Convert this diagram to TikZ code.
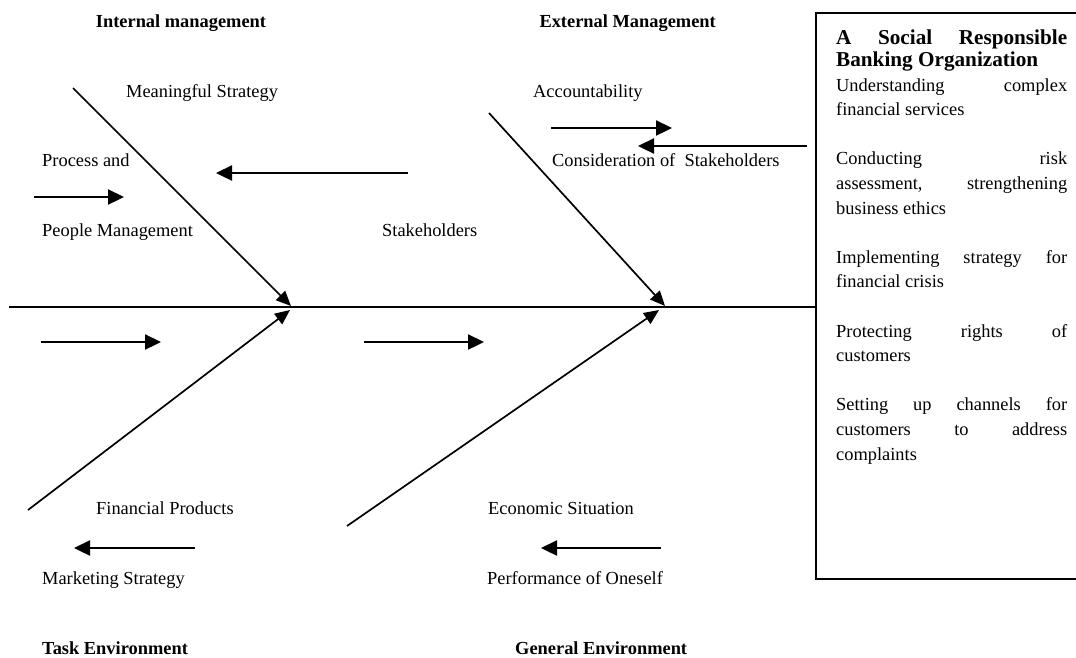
\documentclass[tikz,border=0pt]{standalone}
\usepackage{fontspec}
\setmainfont{Liberation Serif}
\usetikzlibrary{arrows.meta}
\tikzset{
  lbl/.style={anchor=base west, inner sep=0pt, font=\fontsize{18.4}{22}\selectfont},
  head/.style={lbl, font=\fontsize{18.4}{22}\selectfont\bfseries},
  spine/.style={line width=1.9pt},
  bone/.style={line width=1.7pt, -{Triangle[length=15pt,width=13pt]}},
  flow/.style={line width=2.3pt, -{Triangle[length=16pt,width=15pt]}},
  frame/.style={draw, line width=1.8pt, inner sep=0pt, anchor=north west}
}
\begin{document}
\begin{tikzpicture}[x=1pt,y=-1pt]
\useasboundingbox (0,0) rectangle (1076,657);
\clip (0,0) rectangle (1076,657);

% result box on the right
\node[frame, minimum width=280pt, minimum height=566pt] (org) at (815,12) {};
\node[anchor=base west, inner sep=0pt] (orgtext) at (836,44) {\vtop{%
  \hsize=231pt \parindent=0pt \lineskiplimit=-100pt
  \fontsize{21.2}{22}\selectfont\bfseries
  \baselineskip=22pt
  \hbox to\hsize{A\hfil Social\hfil Responsible}
  \hbox{Banking Organization}
  \fontsize{18.4}{24.6}\mdseries\selectfont
  \baselineskip=25pt
  \hbox to\hsize{Understanding\hfil complex}
  \baselineskip=24.6pt
  \hbox{financial services}
  \vskip24.6pt
  \hbox to\hsize{Conducting\hfil risk}
  \hbox to\hsize{assessment,\hfil strengthening}
  \hbox{business ethics}
  \vskip24.6pt
  \hbox to\hsize{Implementing\hfil strategy\hfil for}
  \hbox{financial crisis}
  \vskip24.6pt
  \hbox to\hsize{Protecting\hfil rights\hfil of}
  \hbox{customers}
  \vskip24.6pt
  \hbox to\hsize{Setting\hfil up\hfil channels\hfil for}
  \hbox to\hsize{customers\hfil to\hfil address}
  \hbox{complaints}}};

% spine
\coordinate (tail) at (9,307);
\draw[spine] (tail) -- (tail -| org.west);

% bones
\coordinate (ul) at (73,88);
\coordinate (ulhub) at (291,306);
\coordinate (ll) at (28,510);
\coordinate (llhub) at (290,310);
\coordinate (ur) at (489,113);
\coordinate (urhub) at (665,306);
\coordinate (lr) at (347,526);
\coordinate (lrhub) at (659,310);
\draw[bone] (ul) -- (ulhub);
\draw[bone] (ll) -- (llhub);
\draw[bone] (ur) -- (urhub);
\draw[bone] (lr) -- (lrhub);

% small flow arrows
\coordinate (a1) at (34,197);  \coordinate (b1) at (124,197);
\coordinate (a2) at (408,173); \coordinate (b2) at (216,173);
\coordinate (a3) at (551,128); \coordinate (b3) at (672,128);
\coordinate (a4) at (807,146); \coordinate (b4) at (638,146);
\coordinate (a5) at (41,342);  \coordinate (b5) at (161,342);
\coordinate (a6) at (364,342); \coordinate (b6) at (484,342);
\coordinate (a7) at (195,548); \coordinate (b7) at (74,548);
\coordinate (a8) at (661,548); \coordinate (b8) at (541,548);
\foreach \i in {1,...,8} \draw[flow] (a\i) -- (b\i);

% headings
\node[head] (intm) at (95.7,27) {Internal management};
\node[head] (extm) at (539.3,27) {External Management};
\node[head] (task) at (42,654) {Task Environment};
\node[head] (gen) at (515,654) {General Environment};

% labels
\node[lbl] (mean) at (126,97) {Meaningful Strategy};
\node[lbl] (acc) at (533,97) {Accountability};
\node[lbl] (proc) at (42,166) {Process and};
\node[lbl] (cons) at (552,166) {Consideration of\ \ Stakeholders};
\node[lbl] (peop) at (42,236) {People Management};
\node[lbl] (stak) at (382,236) {Stakeholders};
\node[lbl] (fin) at (96,514) {Financial Products};
\node[lbl] (eco) at (488,514) {Economic Situation};
\node[lbl] (mark) at (42,584) {Marketing Strategy};
\node[lbl] (perf) at (487,584) {Performance of Oneself};
\end{tikzpicture}
\end{document}
